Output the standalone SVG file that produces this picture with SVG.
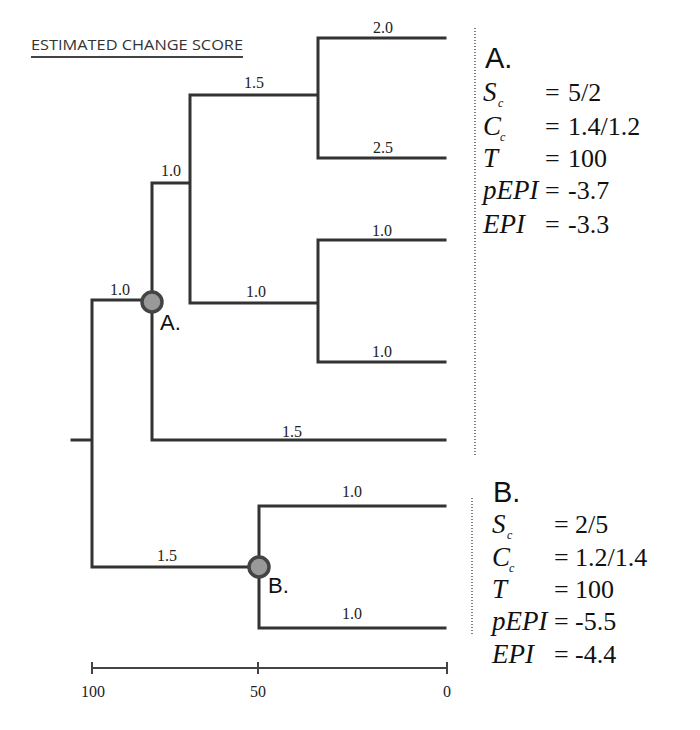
<svg xmlns="http://www.w3.org/2000/svg" width="700" height="730" viewBox="0 0 700 730">
<style>
.br{fill:none;stroke:#333;stroke-width:3;stroke-linecap:square}
.ax{fill:none;stroke:#444;stroke-width:2}
.dot{fill:none;stroke:#555;stroke-width:1.5;stroke-dasharray:1 2}
.nd{fill:#999;stroke:#444;stroke-width:3.5}
.bl{font-family:"Liberation Serif",serif;font-size:16px;fill:#222;text-anchor:middle}
.nl{font-family:"Liberation Sans",Arial,sans-serif;font-size:22px;fill:#111}
.ph{font-family:"Liberation Sans",Arial,sans-serif;font-size:29px;fill:#111}
.pv{font-family:"Liberation Serif",serif;font-size:26px;fill:#111}
.pi{font-family:"Liberation Serif",serif;font-size:27px;font-style:italic;fill:#111}
.sub{font-family:"Liberation Serif",serif;font-size:12px;font-style:italic;fill:#111}
</style>
<rect width="700" height="730" fill="#fff"/>
<g id="title">
<text x="31" y="50" font-family="Open Sans, Liberation Sans, sans-serif" font-size="14.5" fill="#333" textLength="212" lengthAdjust="spacingAndGlyphs">ESTIMATED CHANGE SCORE</text>
<line x1="31" y1="57" x2="243" y2="57" stroke="#444" stroke-width="2"/>
</g>
<g id="connectors">
<path class="br" d="M72,440 H92 M92,300 V567 M92,300 H152 M92,567 H259 M152,183 V440 M152,183 H190 M152,440 H445 M190,95 V303 M190,95 H318 M190,303 H318 M318,38 V158 M318,38 H445 M318,158 H445 M318,240 V362 M318,240 H445 M318,362 H445 M259,506 V628 M259,506 H445 M259,628 H445"/>
</g>
<g id="branch-labels">
<text class="bl" x="120" y="295">1.0</text>
<text class="bl" x="167" y="561">1.5</text>
<text class="bl" x="171" y="176">1.0</text>
<text class="bl" x="254" y="88">1.5</text>
<text class="bl" x="383" y="33">2.0</text>
<text class="bl" x="383" y="153">2.5</text>
<text class="bl" x="256" y="297">1.0</text>
<text class="bl" x="382" y="236">1.0</text>
<text class="bl" x="382" y="357">1.0</text>
<text class="bl" x="292" y="437">1.5</text>
<text class="bl" x="352" y="497">1.0</text>
<text class="bl" x="352" y="619">1.0</text>
</g>
<g id="node-A">
<circle class="nd" cx="152" cy="302" r="10"/>
<text class="nl" x="160" y="330">A.</text>
</g>
<g id="node-B">
<circle class="nd" cx="259" cy="567" r="10"/>
<text class="nl" x="268" y="593">B.</text>
</g>
<g id="axis">
<path class="ax" d="M92,668 H447 M92,662 V674 M258,662 V674 M447,662 V674"/>
<text class="bl" x="93" y="697">100</text>
<text class="bl" x="258" y="697">50</text>
<text class="bl" x="447" y="697">0</text>
</g>
<g id="panel-A">
<line class="dot" x1="475" y1="28" x2="475" y2="455"/>
<text class="ph" x="485" y="68">A.</text>
<text class="pi" x="483" y="101">S</text><text class="sub" x="498" y="107">c</text>
<text class="pv" x="545" y="101">=</text><text class="pv" x="568" y="101">5/2</text>
<text class="pi" x="483" y="135">C</text><text class="sub" x="500" y="141">c</text>
<text class="pv" x="545" y="135">=</text><text class="pv" x="568" y="135">1.4/1.2</text>
<text class="pi" x="483" y="167">T</text>
<text class="pv" x="545" y="167">=</text><text class="pv" x="568" y="167">100</text>
<text class="pi" x="483" y="199">pEPI</text>
<text class="pv" x="545" y="199">=</text><text class="pv" x="568" y="199">-3.7</text>
<text class="pi" x="483" y="233">EPI</text>
<text class="pv" x="545" y="233">=</text><text class="pv" x="568" y="233">-3.3</text>
</g>
<g id="panel-B">
<line class="dot" x1="472" y1="498" x2="472" y2="635"/>
<text class="ph" x="493" y="502">B.</text>
<text class="pi" x="492" y="533">S</text><text class="sub" x="507" y="539">c</text>
<text class="pv" x="554" y="533">=</text><text class="pv" x="575" y="533">2/5</text>
<text class="pi" x="492" y="566">C</text><text class="sub" x="509" y="572">c</text>
<text class="pv" x="554" y="566">=</text><text class="pv" x="575" y="566">1.2/1.4</text>
<text class="pi" x="492" y="598">T</text>
<text class="pv" x="554" y="598">=</text><text class="pv" x="575" y="598">100</text>
<text class="pi" x="492" y="630">pEPI</text>
<text class="pv" x="554" y="630">=</text><text class="pv" x="575" y="630">-5.5</text>
<text class="pi" x="492" y="663">EPI</text>
<text class="pv" x="554" y="663">=</text><text class="pv" x="575" y="663">-4.4</text>
</g>
</svg>
